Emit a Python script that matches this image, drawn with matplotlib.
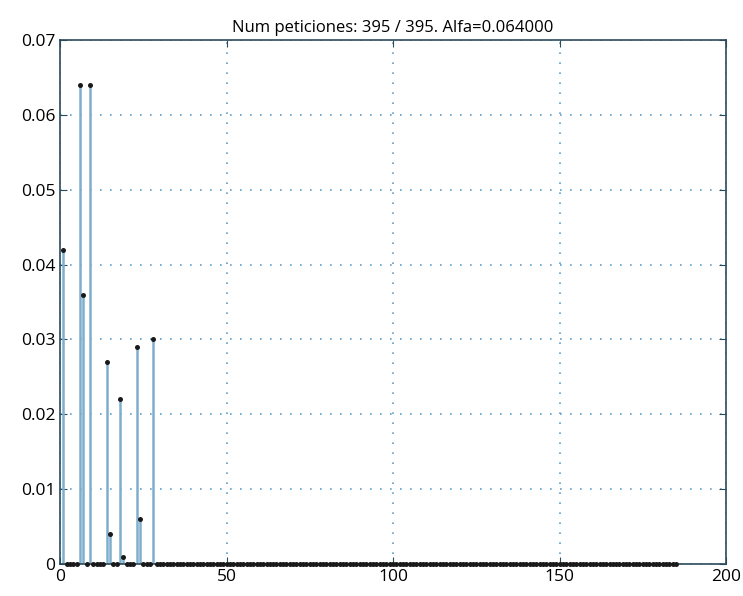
import numpy as np
import matplotlib.pyplot as plt

# request index and probability for the non-zero entries
n_points = 185
spike_idx = [1, 6, 7, 9, 14, 15, 18, 19, 23, 24, 28]
spike_val = [0.042, 0.064, 0.036, 0.064, 0.027, 0.004, 0.022, 0.001, 0.029, 0.006, 0.030]

x = np.arange(1, n_points + 1)
y = np.zeros(n_points)
for i, v in zip(spike_idx, spike_val):
    y[i - 1] = v

plt.rcParams['font.family'] = ['Open Sans', 'DejaVu Sans']

fig = plt.figure(figsize=(7.43, 5.96), dpi=100)
ax = fig.add_axes([0.0808, 0.0537, 0.8964, 0.879])

stem_color = '#7eaecb'
ax.vlines(x, 0, y, color=stem_color, linewidth=1.8, zorder=2)
ax.plot(x, y, linestyle='none', marker='o', markersize=3.6, markeredgewidth=0,
        color='#1a1a1a', zorder=3, clip_on=False)

ax.set_xlim(0, 200)
ax.set_ylim(0, 0.07)
ax.set_xticks([0, 50, 100, 150, 200])
ax.set_yticks([0, 0.01, 0.02, 0.03, 0.04, 0.05, 0.06, 0.07])
ax.set_yticklabels(['0', '0.01', '0.02', '0.03', '0.04', '0.05', '0.06', '0.07'])

ax.grid(True, linestyle=(0, (1, 5)), color='#5fa0cc', linewidth=1.2)
ax.tick_params(direction='in', top=True, right=True, length=5,
               labelsize=12.5, colors='#2b4a5a', labelcolor='black')
for s in ax.spines.values():
    s.set_color('#2b4a5a')
    s.set_linewidth(1.2)

ax.set_title('Num peticiones: 395 / 395. Alfa=0.064000', fontsize=12, pad=6)

fig.savefig('out.png', dpi=100)
